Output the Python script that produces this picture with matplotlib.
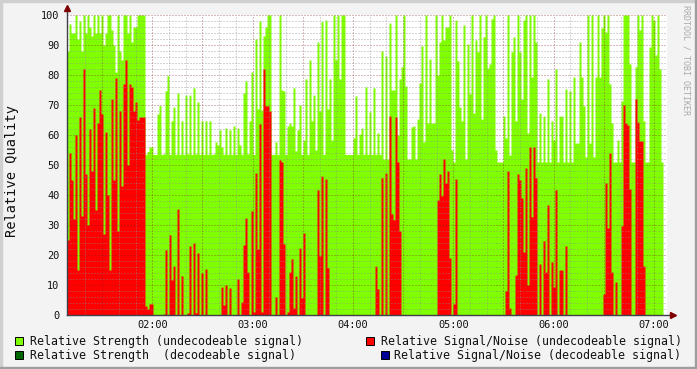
import numpy as np
import matplotlib
matplotlib.use("Agg")
import matplotlib.pyplot as plt
from matplotlib.patches import Rectangle

# time axis: minutes after midnight, one sample every ~72 s
start_min = 69.0
step_min = 1.196

# Relative Strength (undecodeable signal), green area
strength = [
    88, 97, 94, 94, 100, 92, 98, 88, 100, 94, 100, 96, 93, 100, 94, 100, 94, 100, 90, 94,
    100, 100, 95, 90, 81, 100, 88, 85, 100, 100, 94, 100, 91, 96, 96, 100, 100, 100, 100, 53.5,
    54.5, 56, 56, 53.5, 53.5, 67, 69.8, 53.5, 53.7, 74.7, 79.8, 53.5, 64.7, 69.3, 53.5, 74, 53.5, 64.7, 53.5, 73.3,
    53.7, 73.3, 53.5, 75.7, 53.7, 71, 53.5, 64.7, 53.5, 64.7, 53.5, 64.7, 53.5, 53.7, 57.7, 56.7, 61.7, 56, 53.5, 62.3,
    53.5, 61.7, 53.5, 63, 53.5, 62.3, 56.7, 53.5, 74, 78, 53.7, 64.7, 81, 53.5, 92, 68.7, 98, 68.3, 93, 96,
    100, 100, 53.5, 53.5, 57.7, 53.5, 100, 75, 74.7, 53.5, 63, 64, 63, 75.7, 54.7, 61.7, 70, 53.5, 58.3, 78.7,
    53.5, 85, 64.7, 73.3, 55, 91, 68, 97.8, 53.5, 98.3, 68.7, 78.7, 58.3, 100, 85, 100, 78.7, 100, 100, 53.5,
    53.5, 53.5, 53.5, 59, 73, 53.5, 60.3, 62.3, 53.5, 76, 53.5, 67.7, 53.5, 75.7, 53.5, 60.7, 53.5, 88, 52, 86.3,
    52, 97.3, 75, 75, 100, 60, 78.7, 82.7, 100, 76.3, 52, 52, 62.7, 63, 52, 65.3, 77.3, 89.7, 57.7, 100,
    64, 85.3, 64, 64, 100, 80, 91, 100, 91.7, 96, 96, 100, 55, 51, 98.3, 84.7, 69.3, 64.7, 96.7, 52,
    90.3, 73.7, 100, 67.3, 91.7, 87.7, 100, 65.3, 92.7, 100, 82.3, 83.7, 98.7, 100, 55, 51, 51, 51, 66.3, 59,
    100, 53.3, 87.7, 92.7, 64.7, 100, 87.7, 72, 98.3, 100, 60.7, 100, 79.3, 100, 91, 51, 67.3, 51, 66.3, 51,
    78.7, 51, 64.7, 58.3, 82, 51, 66.3, 66.3, 51, 75.3, 51, 74.7, 51, 79.3, 57.3, 57.3, 91, 79.3, 69.7, 52.7,
    100, 57.3, 100, 52.7, 79.3, 100, 79.3, 95.7, 100, 94.3, 100, 77, 64, 51, 51, 58.3, 51, 71.3, 100, 100,
    100, 83.7, 51, 51, 82.7, 100, 95, 100, 64.7, 51, 51, 89.3, 100, 98.3, 86.7, 100, 82, 51, 51, np.nan,
]

# Relative Signal/Noise (undecodeable signal), red area
snr = [
    25, 54, 45, 32, 60, 15, 66, 33, 82, 47, 30, 62, 48, 69, 35, 64, 75, 67, 27, 61,
    40, 15, 72, 45, 79, 28, 68, 43, 77, 85, 50, 77, 76, 68, 71, 65, 66, 66, 66, 3,
    2, 3.7, 3.7, 0, 0, 0, 0, 0, 0.3, 21.7, 0, 26.7, 11.7, 16.3, 0, 35.3, 0, 13, 0, 0,
    0.7, 23, 0, 24, 0.7, 20.7, 0, 14, 0, 15.3, 0, 0, 0, 0, 0, 0, 0, 9.3, 3.3, 10,
    0, 9, 0, 0, 0, 12, 0, 4.3, 23.3, 32.3, 14.3, 0, 34.7, 1, 47.3, 22, 63.7, 1, 82, 69.7,
    69.7, 68, 0, 0, 6, 0, 51.7, 51, 23.7, 0, 1, 14.3, 18.7, 2.3, 13, 0, 22.3, 5.7, 27.3, 0,
    0, 0, 0, 0, 0, 41.7, 19.7, 46.3, 0, 45.3, 15.7, 0, 0, 0, 0, 0, 0, 0, 0, 0,
    0, 0, 0, 0, 0, 0, 0, 0, 0, 0, 0, 0, 0, 0, 16.3, 8.7, 0, 45.7, 0, 47.3,
    0, 66.3, 33.7, 31.7, 66, 51, 28, 0, 0, 0, 0, 0, 0, 0, 0, 0, 0, 0, 0, 0,
    0, 0, 0, 0, 0, 38.3, 47, 39.7, 52, 44, 48, 19, 0, 3.7, 45.3, 0, 0, 0, 0, 0,
    0, 0, 0, 0, 0, 0, 0, 0, 0, 0, 0, 0, 0, 0, 0, 0, 0, 0, 0, 8,
    48, 2.3, 0, 0, 13.3, 47, 45, 39, 21, 49, 10, 56, 32.7, 56, 45.7, 0, 17, 0, 24.7, 14.3,
    36.7, 0, 17.7, 9.3, 41.7, 0, 15, 15, 0, 23, 0, 0, 0, 0, 0, 0, 0, 0, 0, 0,
    0, 0, 0, 0, 0, 0, 0, 0, 7, 44, 29, 54, 14.3, 0, 11, 0, 0, 29.7, 70, 64,
    63.3, 42, 0, 0, 72, 64.3, 58, 58, 16.3, 0, 0, 0, 0, 0, 0, 0, 0, 0, 0, np.nan,
]

legend_labels = [
    "Relative Strength (undecodeable signal)",
    "Relative Signal/Noise (undecodeable signal)",
    "Relative Strength  (decodeable signal)",
    "Relative Signal/Noise (decodeable signal)",
]
legend_colors = ["#80ff00", "#ff0000", "#006600", "#000099"]

W, H = 697, 369
fig = plt.figure(figsize=(W / 100, H / 100), dpi=100, facecolor="#f3f3f3")
mono = "DejaVu Sans Mono"

def fx(x):
    return x / W

def fy(y):
    return 1 - y / H

# frame shading
fig.patches.append(Rectangle((0, 1 - 2 / H), 1, 2 / H, transform=fig.transFigure, color="#cfcfcf", zorder=0))
fig.patches.append(Rectangle((0, 0), 2 / W, 1, transform=fig.transFigure, color="#cfcfcf", zorder=0))
fig.patches.append(Rectangle((0, 0), 1, 2 / H, transform=fig.transFigure, color="#9e9e9e", zorder=0))
fig.patches.append(Rectangle((1 - 2 / W, 0), 2 / W, 1, transform=fig.transFigure, color="#9e9e9e", zorder=0))

ax = fig.add_axes([fx(67), 54 / H, 600 / W, 300 / H])
ax.set_facecolor("white")

n = len(strength)
edges = start_min + step_min * np.arange(n + 1)
s = np.append(strength, strength[-1])
r = np.append(snr, snr[-1])
ax.fill_between(edges, 0, s, step="post", color=legend_colors[0], lw=0, antialiased=False, zorder=1)
ax.fill_between(edges, 0, r, step="post", color=legend_colors[1], lw=0, antialiased=False, zorder=2)

x0, x1 = start_min, start_min + 358.8
ax.set_xlim(x0, x1)
ax.set_ylim(0, 100)

# grid on top of the data, rrdtool style (1px dots)
dot = (0, (1, 1))
mgrid = (0.51, 0.12, 0.12, 0.3)
grid = (0.55, 0.55, 0.55, 0.35)
for y in range(2, 101, 2):
    ax.axhline(y, color=mgrid if y % 10 == 0 else grid, lw=1.0, ls=dot,
               antialiased=False, zorder=3)
m = 80
while m < x1:
    ax.axvline(m, color=mgrid if m % 30 == 0 else grid, lw=1.0, ls=dot,
               antialiased=False, zorder=3)
    m += 10

hours = np.arange(120, 421, 60)
ax.set_xticks(hours)
ax.set_xticklabels(["%02d:%02d" % (h // 60, h % 60) for h in hours], fontfamily=mono, fontsize=7.4)
ax.set_yticks(range(0, 101, 10))
ax.set_yticklabels([str(v) for v in range(0, 101, 10)], fontfamily=mono, fontsize=7.4)
ax.tick_params(axis="both", length=0, colors="#111111")
ax.tick_params(axis="y", pad=5.5)
ax.tick_params(axis="x", pad=3.5)
for sp in ax.spines.values():
    sp.set_visible(False)

axis_col = "#40404a"
ax.plot([0, 0], [0, 1 + 6 / 300], transform=ax.transAxes, color=axis_col, lw=1, clip_on=False, zorder=5)
ax.plot([0, 1 + 5 / 600], [0, 0], transform=ax.transAxes, color=axis_col, lw=1, clip_on=False, zorder=5)
ax.plot([0], [1 + 7 / 300], marker="^", ms=4.5, color="#7f0000", transform=ax.transAxes, clip_on=False, zorder=6)
ax.plot([1 + 6 / 600], [0], marker=">", ms=4.5, color="#7f0000", transform=ax.transAxes, clip_on=False, zorder=6)

fig.text(fx(12), fy(171), "Relative Quality", rotation=90, ha="center", va="center",
         fontfamily=mono, fontsize=9.8, color="#111111")
fig.text(fx(686), fy(5), "RRDTOOL / TOBI OETIKER", rotation=270, ha="center", va="top",
         fontfamily=mono, fontsize=6, color="#aaaaaa")

# legend
legend_pos = [(15, 341, 30), (366, 341, 381), (15, 355, 30), (381, 355, 394)]
for (bx, cy, tx), lab, col in zip(legend_pos, legend_labels, legend_colors):
    fig.patches.append(Rectangle((fx(bx), fy(cy + 4)), 8 / W, 8 / H, transform=fig.transFigure,
                                 facecolor=col, edgecolor="black", lw=0.7, zorder=2))
    fig.text(fx(tx), fy(cy), lab, ha="left", va="center", fontfamily=mono, fontsize=8.34, color="#111111")

fig.savefig("out.png", dpi=100, facecolor=fig.get_facecolor())
